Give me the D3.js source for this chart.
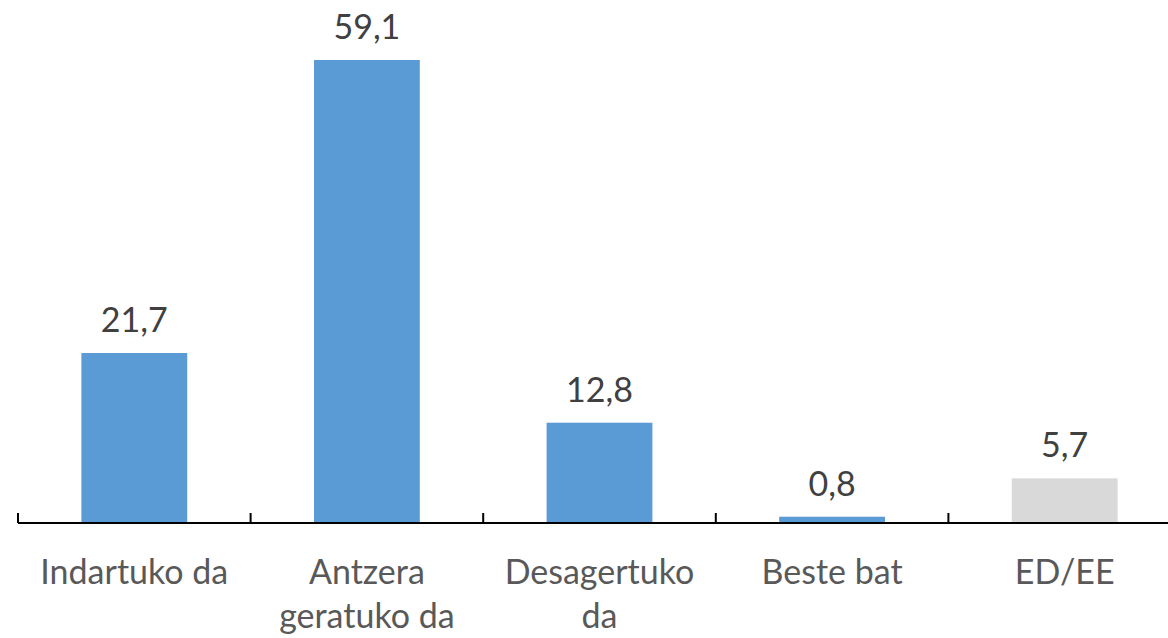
<!DOCTYPE html>
<html>
<head>
<meta charset="utf-8">
<script src="https://cdn.jsdelivr.net/npm/d3@7"></script>
<style>
  body { margin: 0; background: #fff; }
  text { font-family: Lato, "Open Sans", sans-serif; }
</style>
</head>
<body>
<svg id="chart" width="1168" height="638"></svg>
<script>
// data
var categories = ["Indartuko da", "Antzera geratuko da", "Desagertuko da", "Beste bat", "ED/EE"];
var catLines = [["Indartuko da"], ["Antzera", "geratuko da"], ["Desagertuko", "da"], ["Beste bat"], ["ED/EE"]];
var values = [21.7, 59.1, 12.8, 0.8, 5.7];
var labels = ["21,7", "59,1", "12,8", "0,8", "5,7"];
var barColors = ["#5B9BD5", "#5B9BD5", "#5B9BD5", "#5B9BD5", "#D9D9D9"];

var svg = d3.select("#chart");
var baseY = 523;

var x = d3.scaleBand().domain(categories).range([18, 1181]).padding(0);
var y = d3.scaleLinear().domain([0, 59.1]).range([baseY, 60]);
var barW = x.bandwidth() * 0.455;

// bars
svg.append("g").selectAll("rect").data(categories).enter().append("rect")
  .attr("x", function(d) { return x(d) + (x.bandwidth() - barW) / 2; })
  .attr("y", function(d, i) { return y(values[i]); })
  .attr("width", barW)
  .attr("height", function(d, i) { return baseY - y(values[i]); })
  .attr("fill", function(d, i) { return barColors[i]; });

// value labels
svg.append("g").selectAll("text").data(categories).enter().append("text")
  .attr("x", function(d) { return x(d) + x.bandwidth() / 2; })
  .attr("y", function(d, i) { return y(values[i]) - 21; })
  .attr("text-anchor", "middle")
  .attr("font-size", 34)
  .attr("fill", "#404040")
  .text(function(d, i) { return labels[i]; });

// axis line + ticks
var ax = svg.append("g");
ax.append("line").attr("x1", 18).attr("x2", 1168).attr("y1", baseY).attr("y2", baseY)
  .attr("stroke", "#000").attr("stroke-width", 2);
var edges = categories.map(function(d) { return x(d); });
ax.selectAll("line.tick").data(edges).enter().append("line").attr("class", "tick")
  .attr("x1", function(d) { return d; }).attr("x2", function(d) { return d; })
  .attr("y1", baseY - 10).attr("y2", baseY)
  .attr("stroke", "#000").attr("stroke-width", 2);

// category labels
var cl = svg.append("g").selectAll("text").data(categories).enter().append("text")
  .attr("x", function(d) { return x(d) + x.bandwidth() / 2; })
  .attr("y", 584)
  .attr("text-anchor", "middle")
  .attr("font-size", 34)
  .attr("fill", "#595959");
cl.each(function(d, i) {
  var t = d3.select(this);
  catLines[i].forEach(function(line, j) {
    t.append("tspan").attr("x", x(d) + x.bandwidth() / 2).attr("dy", j === 0 ? 0 : 44).text(line);
  });
});
</script>
</body>
</html>
